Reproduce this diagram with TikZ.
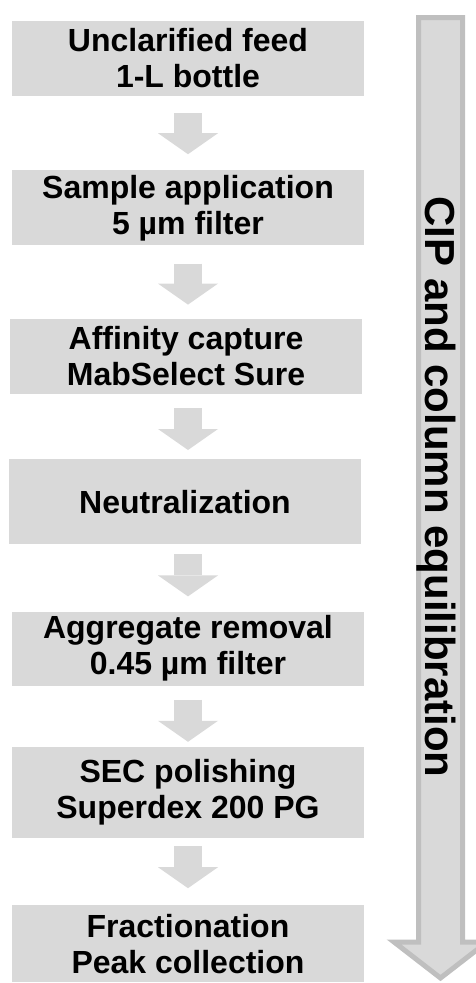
\documentclass[tikz,border=0pt]{standalone}
\usepackage{fontspec}
\setmainfont{Liberation Sans}
\usetikzlibrary{arrows.meta, positioning}

\definecolor{boxgray}{HTML}{D9D9D9}
\definecolor{rimgray}{HTML}{BFBFBF}

\begin{document}
\begin{tikzpicture}[
    x=1pt, y=-1pt,
    font=\fontsize{32}{36}\selectfont\bfseries,
    stage/.style={
        fill=boxgray,
        align=center,
        inner sep=0pt,
        minimum width=352pt,
        minimum height=#1
    },
    flow/.style 2 args={
        draw=boxgray, line width=28pt,
        -{Triangle[width=60pt, length=21pt, line width=0pt]},
        shorten <=#1, shorten >=#2
    },
    sidearrow/.style={
        draw=rimgray, fill=boxgray,
        line width=5pt, line join=miter
    }
]
\useasboundingbox (0,0) rectangle (476,983);

% ===== MAIN COLUMN =====
\node[stage=75pt] (feed) at (188,58.5) {Unclarified feed\\1-L bottle};

\node[stage=75pt, below=74pt of feed] (load)
{Sample application\\5 µm filter};

\node[stage=75pt, below=73pt of load, xshift=-2pt] (capture)
{Affinity capture\\MabSelect Sure};

\node[stage=85pt, below=65pt of capture, xshift=-1pt] (neutral)
{Neutralization};

\node[stage=74pt, below=67pt of neutral, xshift=3pt] (aggr)
{Aggregate removal\\0.45 µm filter};

\node[stage=91pt, below=61pt of aggr] (sec)
{SEC polishing\\Superdex 200 PG};

\node[stage=77pt, below=67pt of sec] (fract)
{Fractionation\\Peak collection};

% ===== STEP ARROWS =====
\draw[flow={17pt}{16pt}] (feed) -- (load);
\draw[flow={18pt}{14pt}] (load) -- (load |- capture.north);
\draw[flow={14pt}{9pt}] (capture.south -| load) -- (load |- neutral.north);
\draw[flow={10pt}{15pt}] (neutral.south -| load) -- (aggr);
\draw[flow={14pt}{5pt}] (aggr) -- (sec);
\draw[flow={8pt}{17pt}] (sec) -- (fract);

% ===== SIDE ARROW (CIP) =====
\coordinate (cipTop) at (440.5,17.5);
\coordinate (cipTip) at (440.5,978);
\path[sidearrow]
  ([xshift=-22pt]cipTop) -- ([xshift=22pt]cipTop)
  -- ([xshift=22pt]cipTop |- 0,942) -- ([xshift=46.5pt]cipTop |- 0,942)
  -- (cipTip)
  -- ([xshift=-46.5pt]cipTop |- 0,942) -- ([xshift=-22pt]cipTop |- 0,942)
  -- cycle;

\node[rotate=-90, font=\fontsize{42}{46}\selectfont\bfseries] (cip)
  at (436,487) {CIP and column equilibration};

\end{tikzpicture}
\end{document}
